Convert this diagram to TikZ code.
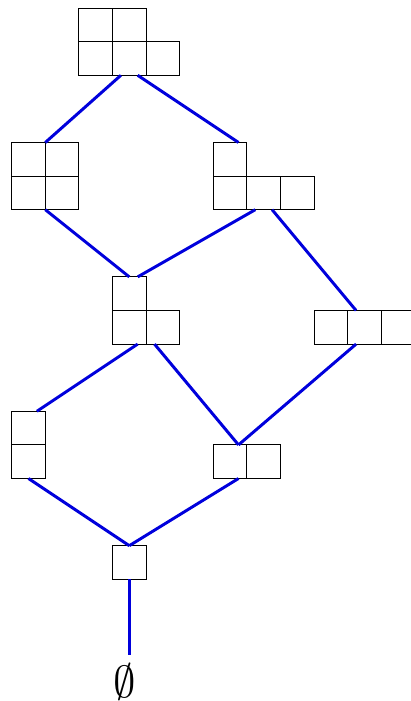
\documentclass[tikz,border=0pt]{standalone}
\usepackage{graphicx}
\definecolor{edgeblue}{RGB}{0,0,220}
\begin{document}
\begin{tikzpicture}[
  x=1cm,y=1cm,
  cell/.style={draw,black,line width=0.8pt,minimum size=1cm,inner sep=0pt,outer sep=0pt,anchor=south west},
  link/.style={edgeblue,line width=2.5pt}
]
  \useasboundingbox (-0.348,-3.622) rectangle (11.884,17.241);

  % (3,2)
  \node[cell] (p32a) at (2,15) {};
  \node[cell] (p32b) at (3,15) {};
  \node[cell] (p32c) at (4,15) {};
  \node[cell] (p32d) at (2,16) {};
  \node[cell] (p32e) at (3,16) {};
  % (2,2) and (3,1)
  \node[cell] (p22a) at (0,11) {};
  \node[cell] (p22b) at (1,11) {};
  \node[cell] (p22c) at (0,12) {};
  \node[cell] (p22d) at (1,12) {};
  \node[cell] (p31a) at (6,11) {};
  \node[cell] (p31b) at (7,11) {};
  \node[cell] (p31c) at (8,11) {};
  \node[cell] (p31d) at (6,12) {};
  % (2,1) and (3)
  \node[cell] (p21a) at (3,7) {};
  \node[cell] (p21b) at (4,7) {};
  \node[cell] (p21c) at (3,8) {};
  \node[cell] (p3a) at (9,7) {};
  \node[cell] (p3b) at (10,7) {};
  \node[cell] (p3c) at (11,7) {};
  % (1,1) and (2)
  \node[cell] (p11a) at (0,3) {};
  \node[cell] (p11b) at (0,4) {};
  \node[cell] (p2a) at (6,3) {};
  \node[cell] (p2b) at (7,3) {};
  % (1) and empty
  \node[cell] (p1a) at (3,0) {};
  \node[inner sep=0pt,outer sep=6.8pt] (empty) at (3.37,-3.04) {\scalebox{3.8}{$\emptyset$}};

  \draw[link] ([xshift=.25cm]p32b.south west) -- (p22d.north west);
  \draw[link] ([xshift=-.25cm]p32b.south east) -- ([xshift=-.25cm]p31d.north east);
  \draw[link] (p22b.south west) -- (p21c.north);
  \draw[link] ([xshift=-.25cm]p31b.south) -- ([xshift=.25cm]p21c.north);
  \draw[link] ([xshift=.25cm]p31b.south) -- ([xshift=.25cm]p3b.north west);
  \draw[link] ([xshift=.25cm]p21a.south) -- ([xshift=-.25cm]p11b.north east);
  \draw[link] ([xshift=.25cm]p21b.south west) -- ([xshift=-.25cm]p2a.north east);
  \draw[link] ([xshift=.25cm]p3b.south west) -- ([xshift=-.25cm]p2a.north east);
  \draw[link] (p11a.south) -- (p1a.north);
  \draw[link] ([xshift=-.25cm]p2a.south east) -- (p1a.north);
  \draw[link] (p1a.south) -- (p1a.south |- empty.north);
\end{tikzpicture}
\end{document}
